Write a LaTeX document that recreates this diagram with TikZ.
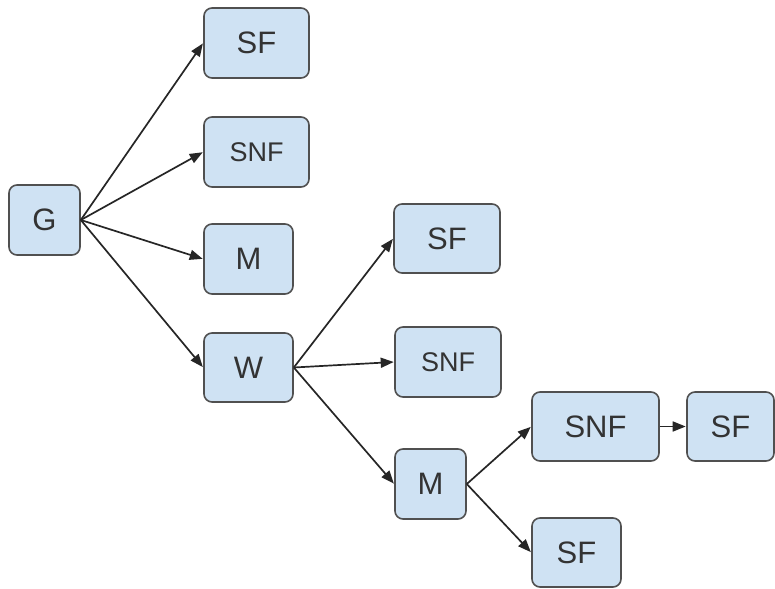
\documentclass[tikz,border=0pt]{standalone}
\usepackage{fontspec}
\setmainfont{Liberation Sans}
\usetikzlibrary{arrows.meta}
\definecolor{boxfill}{HTML}{CFE2F3}
\definecolor{boxline}{HTML}{505050}
\definecolor{txt}{HTML}{333333}
\definecolor{arr}{HTML}{262626}
\tikzset{
  box/.style={draw=boxline, fill=boxfill, line width=1.6pt, rounded corners=8pt,
    inner sep=0pt, text=txt, font=\fontsize{31}{31}\selectfont},
  small/.style={font=\fontsize{27}{27}\selectfont},
  conn/.style={draw=arr, line width=1.7pt, -{Triangle[length=13pt,width=10pt]}, shorten >=0.5pt}
}
\begin{document}
\begin{tikzpicture}[x=1pt,y=-1pt]
\useasboundingbox (0,0) rectangle (775,588);
\node[box, minimum width=71pt, minimum height=70pt] (G) at (44.5,220) {G};
\node[box, minimum width=105pt, minimum height=70pt] (SF1) at (256.5,43) {SF};
\node[box, small, minimum width=105pt, minimum height=70pt] (SNF1) at (256.5,152) {SNF};
\node[box, minimum width=89pt, minimum height=70pt] (M1) at (248.5,259) {M};
\node[box, minimum width=89pt, minimum height=69pt] (W) at (248.5,367.5) {W};
\node[box, minimum width=106pt, minimum height=69pt] (SF2) at (447,238.5) {SF};
\node[box, small, minimum width=106pt, minimum height=70pt] (SNF2) at (448,362) {SNF};
\node[box, minimum width=71pt, minimum height=70pt] (M2) at (430.5,484) {M};
\node[box, minimum width=127pt, minimum height=69pt] (SNF3) at (595.5,426.5) {SNF};
\node[box, minimum width=87pt, minimum height=69pt] (SF3) at (730.5,426.5) {SF};
\node[box, minimum width=89pt, minimum height=69pt] (SF4) at (576.5,552.5) {SF};
\draw[conn] (G.east) -- (SF1.west);
\draw[conn] (G.east) -- (SNF1.west);
\draw[conn] (G.east) -- (M1.west);
\draw[conn] (G.east) -- (W.west);
\draw[conn] (W.east) -- (SF2.west);
\draw[conn] (W.east) -- (SNF2.west);
\draw[conn] (W.east) -- (M2.west);
\draw[conn] (M2.east) -- (SNF3.west);
\draw[conn] (M2.east) -- (SF4.west);
\draw[conn] (SNF3.east) -- (SF3.west);
\end{tikzpicture}
\end{document}
